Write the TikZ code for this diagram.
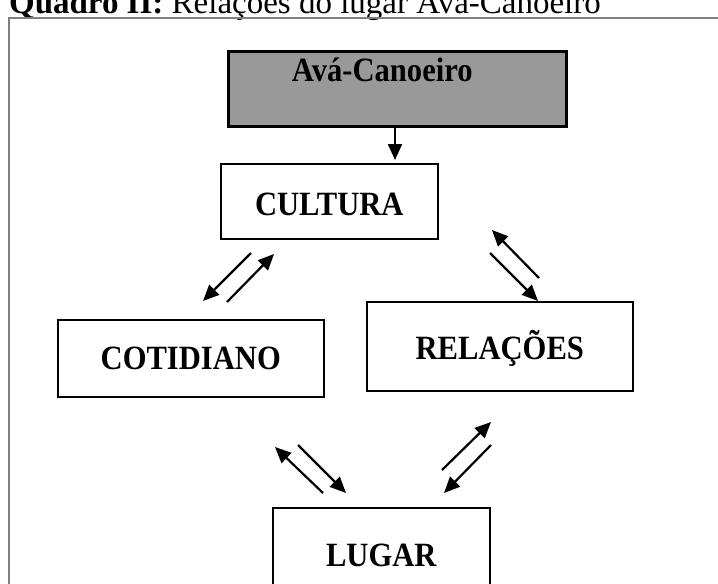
\documentclass[tikz,border=0pt]{standalone}
\usepackage{fontspec}
\setmainfont{Liberation Serif}
\newfontfamily\boxfont[FakeStretch=0.9]{Liberation Serif}
\usetikzlibrary{arrows.meta}

\begin{document}
\begin{tikzpicture} [x = 1pt, y = -1pt, -> , >= {Triangle[length=16pt, width=14pt]}, line width = 2.2pt,
  box/.style = {draw, rectangle, inner sep = 0pt, line width = 1.6pt, font = \boxfont\bfseries\fontsize{34}{40}\selectfont, anchor = north west}]

\clip (0,0) rectangle (718,584);

\node (titulo) [anchor = base west, inner sep = 0pt, font = \fontsize{33}{38}\selectfont] at (8,13) {\textbf{Quadro II:} Relações do lugar Avá-Canoeiro};
\draw [-, line width = 1.3pt, draw = black!50] (9,600) |- (730,18);

\node [box, fill = black!40, line width = 2.6pt, minimum width = 338pt, text height = 30pt, text depth = 45pt] (ava) at (227,50) {Avá-Canoeiro\kern 30pt};
\node [box, minimum width = 217pt, text height = 52pt, text depth = 23pt] (cultura) at (220,163) {CULTURA};
\node [box, minimum width = 266pt, text height = 50pt, text depth = 27pt] (cotidiano) at (57,319) {COTIDIANO};
\node [box, minimum width = 266pt, text height = 58pt, text depth = 31pt] (relacoes) at (366,301) {RELAÇÕES};
\node [box, minimum width = 217pt, text height = 59pt, text depth = 20pt] (lugar) at (272,507) {LUGAR};

\coordinate (cultin) at (395,160);
\path (ava.south -| cultin) edge (cultin);

\coordinate (a1) at (251,253);
\coordinate (a2) at (203,301);
\coordinate (a3) at (227,302);
\coordinate (a4) at (274,254);
\path (a1) edge (a2);
\path (a3) edge (a4);

\coordinate (b1) at (539,278);
\coordinate (b2) at (492,230);
\coordinate (b3) at (490,253);
\coordinate (b4) at (538,301);
\path (b1) edge (b2);
\path (b3) edge (b4);

\coordinate (c1) at (323,493);
\coordinate (c2) at (275,447);
\coordinate (c3) at (298,445);
\coordinate (c4) at (346,493);
\path (c1) edge (c2);
\path (c3) edge (c4);

\coordinate (d1) at (442,470);
\coordinate (d2) at (491,422);
\coordinate (d3) at (491,445);
\coordinate (d4) at (444,493);
\path (d1) edge (d2);
\path (d3) edge (d4);

\end{tikzpicture}
\end{document}
